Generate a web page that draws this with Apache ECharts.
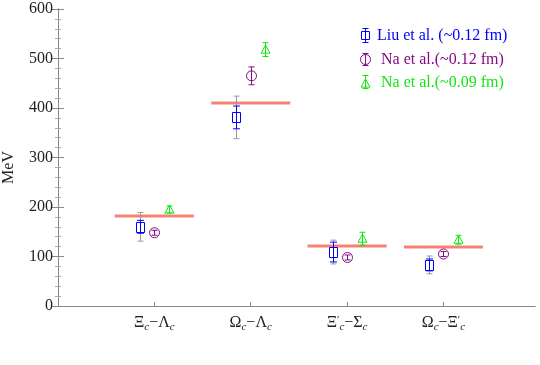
<!DOCTYPE html>
<html>
<head>
<meta charset="utf-8">
<script src="https://cdn.jsdelivr.net/npm/echarts@6/dist/echarts.min.js"></script>
<style>
html, body { margin: 0; padding: 0; background: #fff; }
#chart { width: 540px; height: 365px; }
</style>
</head>
<body>
<div id="chart"></div>
<script>
// 类别标签（富文本，c 为下标）
const categoryLabels = [
    '{n|Ξ}{s|c}{n|−Λ}{s|c}',
    '{n|Ω}{s|c}{n|−Λ}{s|c}',
    '{n|Ξ}{p|′}{s|c}{n|−Σ}{s|c}',
    '{n|Ω}{s|c}{n|−Ξ}{p|′}{s|c}'
];

// 实验值（红线）
const expValues = [182, 410, 121, 119];

// Liu et al. (~0.12 fm)
const liuValues = [160, 381, 109, 83];
const liuStatErr = [13, 23, 20, 12];
const liuTotalErr = [29, 43, 24, 18];

// Na et al.(~0.12 fm)
const naValues = [148, 465, 98, 105];
const naErr = [5, 18, 5, 5];

// Na et al.(~0.09 fm)
const na09Values = [195, 518, 136, 134];
const na09Err = [7, 14, 13, 9];

const legendNames = ['Liu et al. (~0.12 fm)', 'Na et al.(~0.12 fm)', 'Na et al.(~0.09 fm)'];

const BLUE = '#0000ff';
const PURPLE = '#850a85';
const GREEN = '#11e611';
const GRAY = '#999999';
const RED = '#f88272';
const FONT = '"Liberation Serif", "DejaVu Serif", serif';

const chartDom = document.getElementById('chart');
const myChart = echarts.init(chartDom);

const px = v => Math.round(v) + 0.5;

// 误差棒
const errBar = (x, yTop, yBot, cap, color) => [
    { type: 'line', shape: { x1: x, y1: yTop, x2: x, y2: yBot }, style: { stroke: color, lineWidth: 1 } },
    { type: 'line', shape: { x1: x - cap, y1: yTop, x2: x + cap, y2: yTop }, style: { stroke: color, lineWidth: 1 } },
    { type: 'line', shape: { x1: x - cap, y1: yBot, x2: x + cap, y2: yBot }, style: { stroke: color, lineWidth: 1 } }
];

// 空心方块（用多边形画）
const square = (x, y, w, h, color) => ({
    type: 'polygon',
    shape: { points: [[x - w / 2, y - h / 2], [x + w / 2, y - h / 2], [x + w / 2, y + h / 2], [x - w / 2, y + h / 2]] },
    style: { fill: 'none', stroke: color, lineWidth: 1 }
});

const triangle = (x, y, r, color) => ({
    type: 'polygon',
    shape: { points: [[x, y - r], [x + r, y + r * 0.8], [x - r, y + r * 0.8]] },
    style: { fill: 'none', stroke: color, lineWidth: 1 }
});

// 数据: [x, y, err, totalErr]
const liuData = liuValues.map((v, i) => [i + 1 - 0.15, v, liuStatErr[i], liuTotalErr[i]]);
const naData = naValues.map((v, i) => [i + 1, v, naErr[i]]);
const na09Data = na09Values.map((v, i) => [i + 1 + 0.15, v, na09Err[i]]);
const expData = expValues.map((v, i) => [i + 1, v]);

// 图例
const legendGraphic = [];
const legendRows = [35, 59, 82];
legendNames.forEach((name, i) => {
    const x = 365.5, y = legendRows[i] + 0.5;
    const color = [BLUE, PURPLE, GREEN][i];
    let icon;
    if (i === 0) {
        icon = [...errBar(x, y - 7, y + 7, 3, color), square(x, y, 8, 8, color)];
    } else if (i === 1) {
        icon = [...errBar(x, y - 6, y + 6, 3, color),
            { type: 'circle', shape: { cx: x, cy: y, r: 5 }, style: { fill: 'none', stroke: color, lineWidth: 1 } }];
    } else {
        icon = [...errBar(x, y - 7, y + 6, 3, color), triangle(x, y + 1, 4.5, color)];
    }
    legendGraphic.push(...icon.map(g => Object.assign(g, { z: 100 })));
    legendGraphic.push({
        type: 'text', z: 100,
        x: i === 0 ? 377 : 381, y: y,
        style: { text: name, fill: color, font: '16px ' + FONT, textVerticalAlign: 'middle' }
    });
});

const option = {
    backgroundColor: '#fff',
    animation: false,
    grid: { left: 58, right: 5, top: 9, bottom: 59, outerBoundsMode: 'none' },
    graphic: legendGraphic,
    xAxis: [
        {
            type: 'value',
            min: 0,
            max: 4.95,
            position: 'bottom',
            axisLine: { show: true, lineStyle: { color: '#888', width: 1 } },
            axisTick: { show: true, inside: true, length: 4, customValues: [1, 2, 3, 4], lineStyle: { color: '#888' } },
            axisLabel: {
                customValues: [1, 2, 3, 4],
                margin: 7,
                formatter: v => categoryLabels[Math.round(v) - 1] || '',
                rich: {
                    n: { fontFamily: FONT, fontSize: 16, color: '#222' },
                    s: { fontFamily: FONT, fontSize: 11, fontStyle: 'italic', color: '#222', padding: [9, 0, 0, 0] },
                    p: { fontFamily: FONT, fontSize: 11, color: '#222', padding: [0, 0, 6, 0] }
                }
            },
            splitLine: { show: false }
        },
        {
            type: 'value',
            min: 0,
            max: 4.95,
            position: 'top',
            axisLine: { show: true, lineStyle: { color: '#888', width: 1 } },
            axisTick: { show: false },
            axisLabel: { show: false },
            splitLine: { show: false }
        }
    ],
    yAxis: [
        {
            type: 'value',
            min: 0,
            max: 600,
            interval: 100,
            name: 'MeV',
            nameLocation: 'middle',
            nameGap: 41,
            nameTextStyle: { fontFamily: FONT, fontSize: 16, color: '#222', padding: [0, 20, 0, 0] },
            axisLine: { show: true, lineStyle: { color: '#888', width: 1 } },
            axisTick: { show: true, inside: true, length: 6, lineStyle: { color: '#888' } },
            minorTick: { show: true, splitNumber: 5, length: 3, lineStyle: { color: '#aaa' } },
            axisLabel: { fontFamily: FONT, fontSize: 16, color: '#222', margin: 5 },
            splitLine: { show: false }
        },
        {
            type: 'value',
            min: 0,
            max: 600,
            interval: 100,
            position: 'right',
            axisLine: { show: true, lineStyle: { color: '#888', width: 1 } },
            axisTick: { show: true, inside: true, length: 6, lineStyle: { color: '#888' } },
            minorTick: { show: true, splitNumber: 5, length: 3, lineStyle: { color: '#aaa' } },
            axisLabel: { show: false },
            splitLine: { show: false }
        }
    ],
    series: [
        {
            name: 'exp',
            type: 'custom',
            data: expData,
            renderItem: (params, api) => {
                const a = api.coord([api.value(0) - 0.41, api.value(1)]);
                const b = api.coord([api.value(0) + 0.41, api.value(1)]);
                return {
                    type: 'line',
                    shape: { x1: a[0], y1: a[1], x2: b[0], y2: b[1] },
                    style: { stroke: RED, lineWidth: 3 }
                };
            }
        },
        {
            name: legendNames[0],
            type: 'custom',
            data: liuData,
            renderItem: (params, api) => {
                const x = api.value(0), y = api.value(1);
                const c = api.coord([x, y]);
                const cx = px(c[0]);
                const tTop = api.coord([x, y + api.value(3)])[1];
                const tBot = api.coord([x, y - api.value(3)])[1];
                const sTop = api.coord([x, y + api.value(2)])[1];
                const sBot = api.coord([x, y - api.value(2)])[1];
                return {
                    type: 'group',
                    children: [
                        ...errBar(cx, tTop, tBot, 3, GRAY),
                        ...errBar(cx, sTop, sBot, 3.5, BLUE),
                        square(cx, px(c[1]), 8, 10, BLUE)
                    ]
                };
            }
        },
        {
            name: legendNames[1],
            type: 'custom',
            data: naData,
            renderItem: (params, api) => {
                const x = api.value(0), y = api.value(1);
                const c = api.coord([x, y]);
                const cx = px(c[0]);
                const top = api.coord([x, y + api.value(2)])[1];
                const bot = api.coord([x, y - api.value(2)])[1];
                return {
                    type: 'group',
                    children: [
                        ...errBar(cx, top, bot, 3, PURPLE),
                        { type: 'circle', shape: { cx: cx, cy: c[1], r: 5 }, style: { fill: 'none', stroke: PURPLE, lineWidth: 1 } }
                    ]
                };
            }
        },
        {
            name: legendNames[2],
            type: 'custom',
            data: na09Data,
            renderItem: (params, api) => {
                const x = api.value(0), y = api.value(1);
                const c = api.coord([x, y]);
                const cx = px(c[0]);
                const top = api.coord([x, y + api.value(2)])[1];
                const bot = api.coord([x, y - api.value(2)])[1];
                return {
                    type: 'group',
                    children: [
                        ...errBar(cx, top, bot, 3, GREEN),
                        triangle(cx, c[1], 4.5, GREEN)
                    ]
                };
            }
        }
    ]
};

myChart.setOption(option);

window.addEventListener('resize', () => {
    myChart.resize();
});
</script>
</body>
</html>
